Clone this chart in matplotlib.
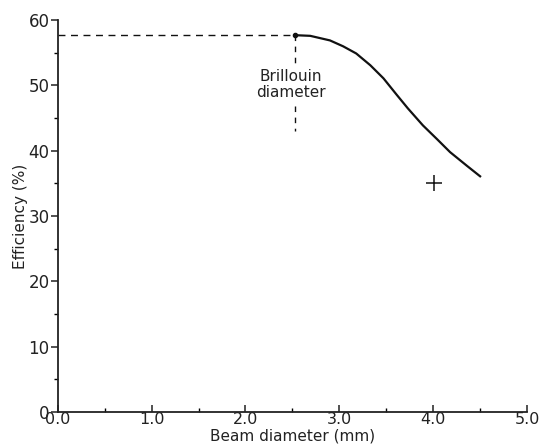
import numpy as np
import matplotlib.pyplot as plt
from matplotlib.ticker import MultipleLocator

# efficiency vs beam diameter
beam_mm = [2.53, 2.69, 2.90, 3.04, 3.18, 3.33, 3.47, 3.61, 3.73, 3.89, 4.04, 4.18, 4.36, 4.50]
efficiency = [57.7, 57.6, 56.9, 56.0, 54.9, 53.1, 51.1, 48.6, 46.5, 43.9, 41.8, 39.8, 37.7, 36.1]

brillouin_d = 2.53
brillouin_eff = 57.7

measured_x = [4.01]
measured_y = [35.0]

plt.rcParams['font.family'] = ['DejaVu Sans']

fig = plt.figure(figsize=(5.4, 4.48), dpi=100)
ax = fig.add_axes([0.107, 0.080, 0.869, 0.875])

ax.plot(beam_mm, efficiency, color='#111111', lw=1.6, solid_joinstyle='round')
ax.plot([brillouin_d], [brillouin_eff], 'o', color='#111111', ms=3)
ax.plot(measured_x, measured_y, '+', color='#111111', ms=11, mew=1.1)

# dashed guides to the Brillouin point
ax.plot([0, brillouin_d], [brillouin_eff, brillouin_eff], color='#111111', lw=1.0, dashes=(5, 4))
ax.plot([brillouin_d, brillouin_d], [brillouin_eff, 53.2], color='#111111', lw=1.0, dashes=(4, 4))
ax.plot([brillouin_d, brillouin_d], [46.8, 43.0], color='#111111', lw=1.0, dashes=(4, 4))
ax.text(brillouin_d - 0.05, 50.2, 'Brillouin\ndiameter', ha='center', va='center',
        fontsize=11, color='#222222', linespacing=1.1)

ax.set_xlim(0, 5.0)
ax.set_ylim(0, 60)
ax.xaxis.set_minor_locator(MultipleLocator(0.5))
ax.yaxis.set_major_locator(MultipleLocator(10))
ax.yaxis.set_minor_locator(MultipleLocator(5))
ax.set_xticks([0, 1, 2, 3, 4, 5])
ax.set_xticklabels(['0.0', '1.0', '2.0', '3.0', '4.0', '5.0'])

for s in ['top', 'right']:
    ax.spines[s].set_visible(False)
for s in ['left', 'bottom']:
    ax.spines[s].set_linewidth(1.3)
    ax.spines[s].set_color('#222222')

ax.tick_params(axis='y', which='major', direction='out', length=5, width=1.1, labelsize=12, pad=1, colors='#222222')
ax.tick_params(axis='y', which='minor', direction='out', length=3, width=1.0)
ax.tick_params(axis='x', which='major', direction='in', length=5, width=1.1, labelsize=11.5, pad=0, colors='#222222')
ax.tick_params(axis='x', which='minor', direction='in', length=3, width=1.0)

ax.set_xlabel('Beam diameter (mm)', fontsize=11, labelpad=1, color='#222222')
ax.set_ylabel('Efficiency (%)', fontsize=11, labelpad=0, color='#222222')

fig.savefig('out.png', dpi=100, facecolor='white')
